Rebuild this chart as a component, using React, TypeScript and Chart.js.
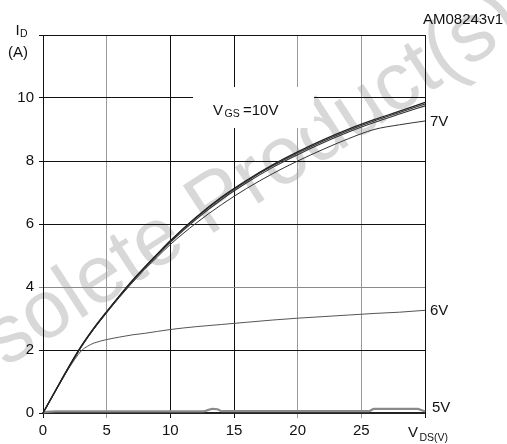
import React, { useEffect, useRef } from "react";
import { Chart, registerables } from "chart.js";

Chart.register(...registerables);

// X values (V_DS, volts)
const vdsMain = [0, 1, 2, 3, 4, 5, 6, 7, 8, 9, 10, 12, 14, 16, 18, 20, 22, 24, 26, 28, 30];
// I_D (A) for each V_GS
const id10 = [0, 0.73, 1.45, 2.12, 2.7, 3.22, 3.72, 4.2, 4.64, 5.06, 5.47, 6.21, 6.85, 7.39, 7.87, 8.29, 8.67, 9.01, 9.31, 9.58, 9.86];
const id9 = [0, 0.725, 1.44, 2.11, 2.69, 3.21, 3.71, 4.19, 4.63, 5.05, 5.46, 6.19, 6.82, 7.36, 7.84, 8.25, 8.63, 8.97, 9.27, 9.54, 9.81];
const id8 = [0, 0.72, 1.43, 2.1, 2.68, 3.2, 3.7, 4.17, 4.61, 5.02, 5.42, 6.14, 6.77, 7.31, 7.79, 8.2, 8.58, 8.92, 9.22, 9.49, 9.75];
const id7 = [0, 0.715, 1.42, 2.09, 2.67, 3.18, 3.67, 4.13, 4.56, 4.96, 5.35, 6.02, 6.61, 7.13, 7.59, 8.0, 8.37, 8.71, 9.0, 9.15, 9.27];

const vds6 = [0, 1, 2, 3, 3.5, 4, 5, 6, 7, 8, 10, 12, 14, 16, 18, 20, 22, 24, 26, 28, 30];
const id6 = [0, 0.7, 1.4, 1.97, 2.12, 2.22, 2.33, 2.41, 2.48, 2.53, 2.65, 2.74, 2.81, 2.88, 2.95, 3.01, 3.06, 3.11, 3.16, 3.2, 3.26];

const vds5 = [0, 1, 12.6, 13.0, 13.3, 13.7, 14.0, 25.6, 26.0, 29.4, 29.8, 30];
const id5 = [0.03, 0.05, 0.05, 0.1, 0.13, 0.12, 0.06, 0.06, 0.13, 0.13, 0.08, 0.05];

const vds4 = [0, 30];
const id4 = [0, 0];

const xTicks = [0, 5, 10, 15, 20, 25];
const yTicks = [0, 2, 4, 6, 8, 10];
const curveLabels = [
  { text: "7V", y: 9.27 },
  { text: "6V", y: 3.26 },
  { text: "5V", y: 0.05 },
];

const FONT = "'Liberation Sans', Arial, sans-serif";

const pts = (xs: number[], ys: number[]) => xs.map((x, i) => ({ x, y: ys[i] }));

const grayX = new Set([5, 20, 25]);
const grayY = new Set([4]);

const textPlugin = {
  id: "texts",
  beforeDraw(chart: any) {
    const { ctx, width, height } = chart;
    ctx.save();
    ctx.fillStyle = "#fff";
    ctx.fillRect(0, 0, width, height);
    // watermark
    ctx.translate(207, 210);
    ctx.rotate((-33 * Math.PI) / 180);
    ctx.font = `82px ${FONT}`;
    ctx.fillStyle = "#d8d8d8";
    ctx.textAlign = "center";
    ctx.textBaseline = "middle";
    ctx.fillText("Obsolete Product(s)", 0, 0);
    ctx.restore();
  },
  beforeDatasetsDraw(chart: any) {
    const { ctx } = chart;
    ctx.save();
    ctx.fillStyle = "#fff";
    ctx.fillRect(193, 87, 121, 41);
    ctx.fillStyle = "#111";
    ctx.textBaseline = "alphabetic";
    ctx.textAlign = "left";
    ctx.font = `15px ${FONT}`;
    ctx.fillText("V", 213, 115);
    ctx.font = `10.5px ${FONT}`;
    ctx.fillText("GS", 224.5, 117);
    ctx.font = `15px ${FONT}`;
    ctx.fillText("=10V", 243, 115);
    ctx.restore();
  },
  afterDraw(chart: any) {
    const { ctx, scales } = chart;
    const ys = scales.y;
    ctx.save();
    ctx.fillStyle = "#111";
    ctx.textBaseline = "alphabetic";
    ctx.font = `15px ${FONT}`;
    ctx.textAlign = "right";
    ctx.fillText("AM08243v1", 503, 24);
    ctx.textAlign = "left";
    ctx.fillText("I", 15.5, 35);
    ctx.font = `10.5px ${FONT}`;
    ctx.fillText("D", 20, 37);
    ctx.font = `15px ${FONT}`;
    ctx.fillText("(A)", 8, 57);
    ctx.textBaseline = "middle";
    curveLabels.forEach((l, i) => {
      const py = ys.getPixelForValue(l.y);
      const off = i === 2 ? -5 : 0;
      ctx.fillText(l.text, i === 2 ? 432 : 430, py + off + 1);
    });
    ctx.textBaseline = "alphabetic";
    ctx.fillText("V", 408, 437);
    ctx.font = `10.5px ${FONT}`;
    ctx.fillText("DS(V)", 419.5, 441);
    ctx.restore();
  },
};

export default function App() {
  const ref = useRef<HTMLCanvasElement>(null);
  useEffect(() => {
    if (!ref.current) return;
    const line = (data: any[], color: string, width: number) => ({
      data,
      borderColor: color,
      borderWidth: width,
      pointRadius: 0,
      fill: false,
      cubicInterpolationMode: "monotone" as const,
      clip: false as any,
    });
    const chart = new Chart(ref.current, {
      type: "line",
      data: {
        datasets: [
          line(pts(vdsMain, id10), "#222", 1.3),
          line(pts(vdsMain, id9), "#333", 1.1),
          line(pts(vdsMain, id8), "#333", 1.1),
          line(pts(vdsMain, id7), "#333", 1),
          line(pts(vds6, id6), "#555", 1),
          line(pts(vds5, id5), "#8a8a8a", 2.2),
          line(pts(vds4, id4), "#222", 2.2),
        ],
      },
      options: {
        animation: false,
        responsive: false,
        maintainAspectRatio: false,
        events: [],
        layout: { padding: { top: 35, right: 82, left: 0, bottom: 0 } },
        plugins: { legend: { display: false }, tooltip: { enabled: false } },
        scales: {
          x: {
            type: "linear",
            min: 0,
            max: 30,
            afterFit: (s: any) => {
              s.height = 31;
            },
            afterBuildTicks: (s: any) => {
              s.ticks = [...xTicks, 30].map((v) => ({ value: v }));
            },
            ticks: {
              autoSkip: false,
              maxRotation: 0,
              padding: 4,
              color: "#111",
              font: { family: FONT, size: 15 },
              callback: (v: any) => (xTicks.includes(v) ? String(v) : ""),
            },
            grid: {
              tickLength: 5,
              lineWidth: 1,
              color: (c: any) => (grayX.has(c.tick?.value) ? "#9a9a9a" : "#111"),
            },
            border: { display: true, color: "#111", width: 1 },
          },
          y: {
            type: "linear",
            min: 0,
            max: 12,
            afterFit: (s: any) => {
              s.width = 43;
            },
            afterBuildTicks: (s: any) => {
              s.ticks = [...yTicks, 12].map((v) => ({ value: v }));
            },
            ticks: {
              autoSkip: false,
              padding: 5,
              color: "#111",
              font: { family: FONT, size: 15 },
              callback: (v: any) => (yTicks.includes(v) ? String(v) : ""),
            },
            grid: {
              tickLength: 4,
              lineWidth: 1,
              color: (c: any) => (grayY.has(c.tick?.value) ? "#8a8a8a" : "#111"),
            },
            border: { display: true, color: "#111", width: 1 },
          },
        },
      },
      plugins: [textPlugin],
    });
    return () => chart.destroy();
  }, []);
  return (
    <div style={{ position: "fixed", left: 0, top: 0, width: 507, height: 444 }}>
      <canvas ref={ref} width={507} height={444} style={{ display: "block" }} />
    </div>
  );
}
